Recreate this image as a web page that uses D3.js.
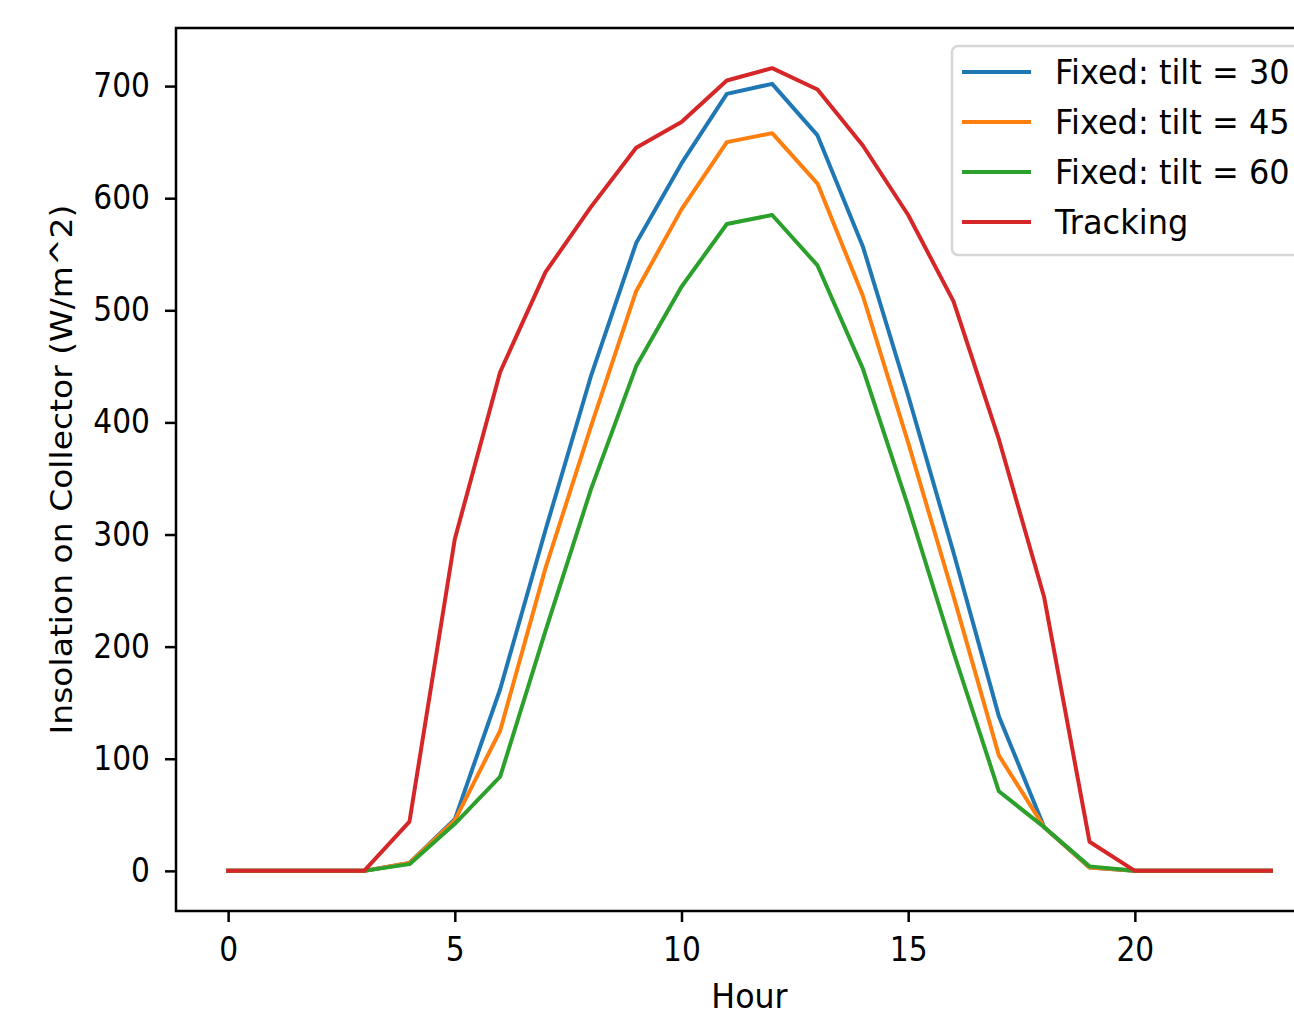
<!DOCTYPE html>
<html>
<head>
<meta charset="utf-8">
<script src="https://d3js.org/d3.v7.min.js"></script>
<style>
  body { margin: 0; background: #fff; }
  svg { display: block; font-family: "DejaVu Sans", sans-serif; }
</style>
</head>
<body>
<div id="chart"></div>
<script>
const width = 1294;
const height = 1015;

const hours = d3.range(0, 24);
const tilt30 = [0, 0, 0, 0, 7, 46, 162, 304, 441, 560, 631, 693, 702, 656, 557, 424, 284, 138, 39, 3, 0, 0, 0, 0];
const tilt45 = [0, 0, 0, 0, 7, 45, 125, 270, 396, 517, 590, 650, 658, 613, 513, 382, 245, 103, 39, 3, 0, 0, 0, 0];
const tilt60 = [0, 0, 0, 0, 6, 42, 84, 214, 340, 450, 521, 577, 585, 540, 448, 325, 195, 71, 39, 4, 0, 0, 0, 0];
const tracking = [0, 0, 0, 0, 44, 296, 445, 534, 592, 645, 668, 705, 716, 697, 647, 585, 508, 385, 244, 26, 0, 0, 0, 0];

const seriesNames = ["Fixed: tilt = 30", "Fixed: tilt = 45", "Fixed: tilt = 60", "Tracking"];
const seriesValues = [tilt30, tilt45, tilt60, tracking];
const colors = ["#1f77b4", "#ff7f0e", "#2ca02c", "#d62728"];
const xTicks = [0, 5, 10, 15, 20];
const yTicks = [0, 100, 200, 300, 400, 500, 600, 700];

const axL = 176, axT = 28, axR = 1323, axB = 911;
const fs = 33;
const sx = 0.9; // source image is a bit narrower than tall

const svg = d3.select("#chart").append("svg")
  .attr("width", width)
  .attr("height", height);

// matplotlib style 5% margins
const xExt = d3.extent(hours);
const xPad = (xExt[1] - xExt[0]) * 0.05;
const x = d3.scaleLinear().domain([xExt[0] - xPad, xExt[1] + xPad]).range([axL, axR]);
const yMax = d3.max(seriesValues, s => d3.max(s));
const yPad = yMax * 0.05;
const y = d3.scaleLinear().domain([-yPad, yMax + yPad]).range([axB, axT]);

const line = d3.line().x((d, i) => x(hours[i])).y(d => y(d));

const plot = svg.append("g");
seriesValues.forEach((s, i) => {
  plot.append("path")
    .datum(s)
    .attr("d", line)
    .attr("fill", "none")
    .attr("stroke", colors[i])
    .attr("stroke-width", 4)
    .attr("stroke-linejoin", "round")
    .attr("stroke-linecap", "square");
});

// axes
const xAxis = svg.append("g")
  .attr("transform", `translate(0,${axB})`)
  .call(d3.axisBottom(x).tickValues(xTicks).tickSize(11).tickPadding(16).tickFormat(d3.format("d")));
const yAxis = svg.append("g")
  .attr("transform", `translate(${axL},0)`)
  .call(d3.axisLeft(y).tickValues(yTicks).tickSize(11).tickPadding(15).tickFormat(d3.format("d")));

[xAxis, yAxis].forEach(a => {
  a.select(".domain").remove();
  a.selectAll(".tick line").attr("stroke", "#000").attr("stroke-width", 2.5);
  a.selectAll(".tick text")
    .attr("fill", "#000")
    .style("font-size", fs + "px")
    .style("font-family", "DejaVu Sans")
    .attr("x", function() { return (+d3.select(this).attr("x") || 0) / sx; })
    .attr("transform", `scale(${sx},1)`);
});

// spines
svg.append("rect")
  .attr("x", axL).attr("y", axT)
  .attr("width", axR - axL).attr("height", axB - axT)
  .attr("fill", "none").attr("stroke", "#000").attr("stroke-width", 2.5);

// labels
svg.append("text")
  .attr("transform", `translate(${(axL + axR) / 2},1008) scale(0.96,1)`)
  .attr("text-anchor", "middle")
  .style("font-size", fs + "px")
  .text("Hour");

svg.append("text")
  .attr("transform", `translate(72,${(axT + axB) / 2}) rotate(-90) scale(1,${sx})`)
  .attr("text-anchor", "middle")
  .style("font-size", fs + "px")
  .text("Insolation on Collector (W/m^2)");

// legend
const legend = svg.append("g").attr("transform", "translate(952,46)");
legend.append("rect")
  .attr("width", 420).attr("height", 209)
  .attr("rx", 6)
  .attr("fill", "#fff").attr("fill-opacity", 0.8)
  .attr("stroke", "#d6d6d6").attr("stroke-width", 2.5);

seriesNames.forEach((name, i) => {
  const row = legend.append("g").attr("transform", `translate(0,${26 + i * 50})`);
  row.append("line")
    .attr("x1", 10).attr("x2", 79)
    .attr("stroke", colors[i]).attr("stroke-width", 4);
  row.append("text")
    .attr("transform", "translate(103,0) scale(0.97,1)")
    .attr("dy", "0.36em")
    .style("font-size", fs + "px")
    .text(name);
});
</script>
</body>
</html>
